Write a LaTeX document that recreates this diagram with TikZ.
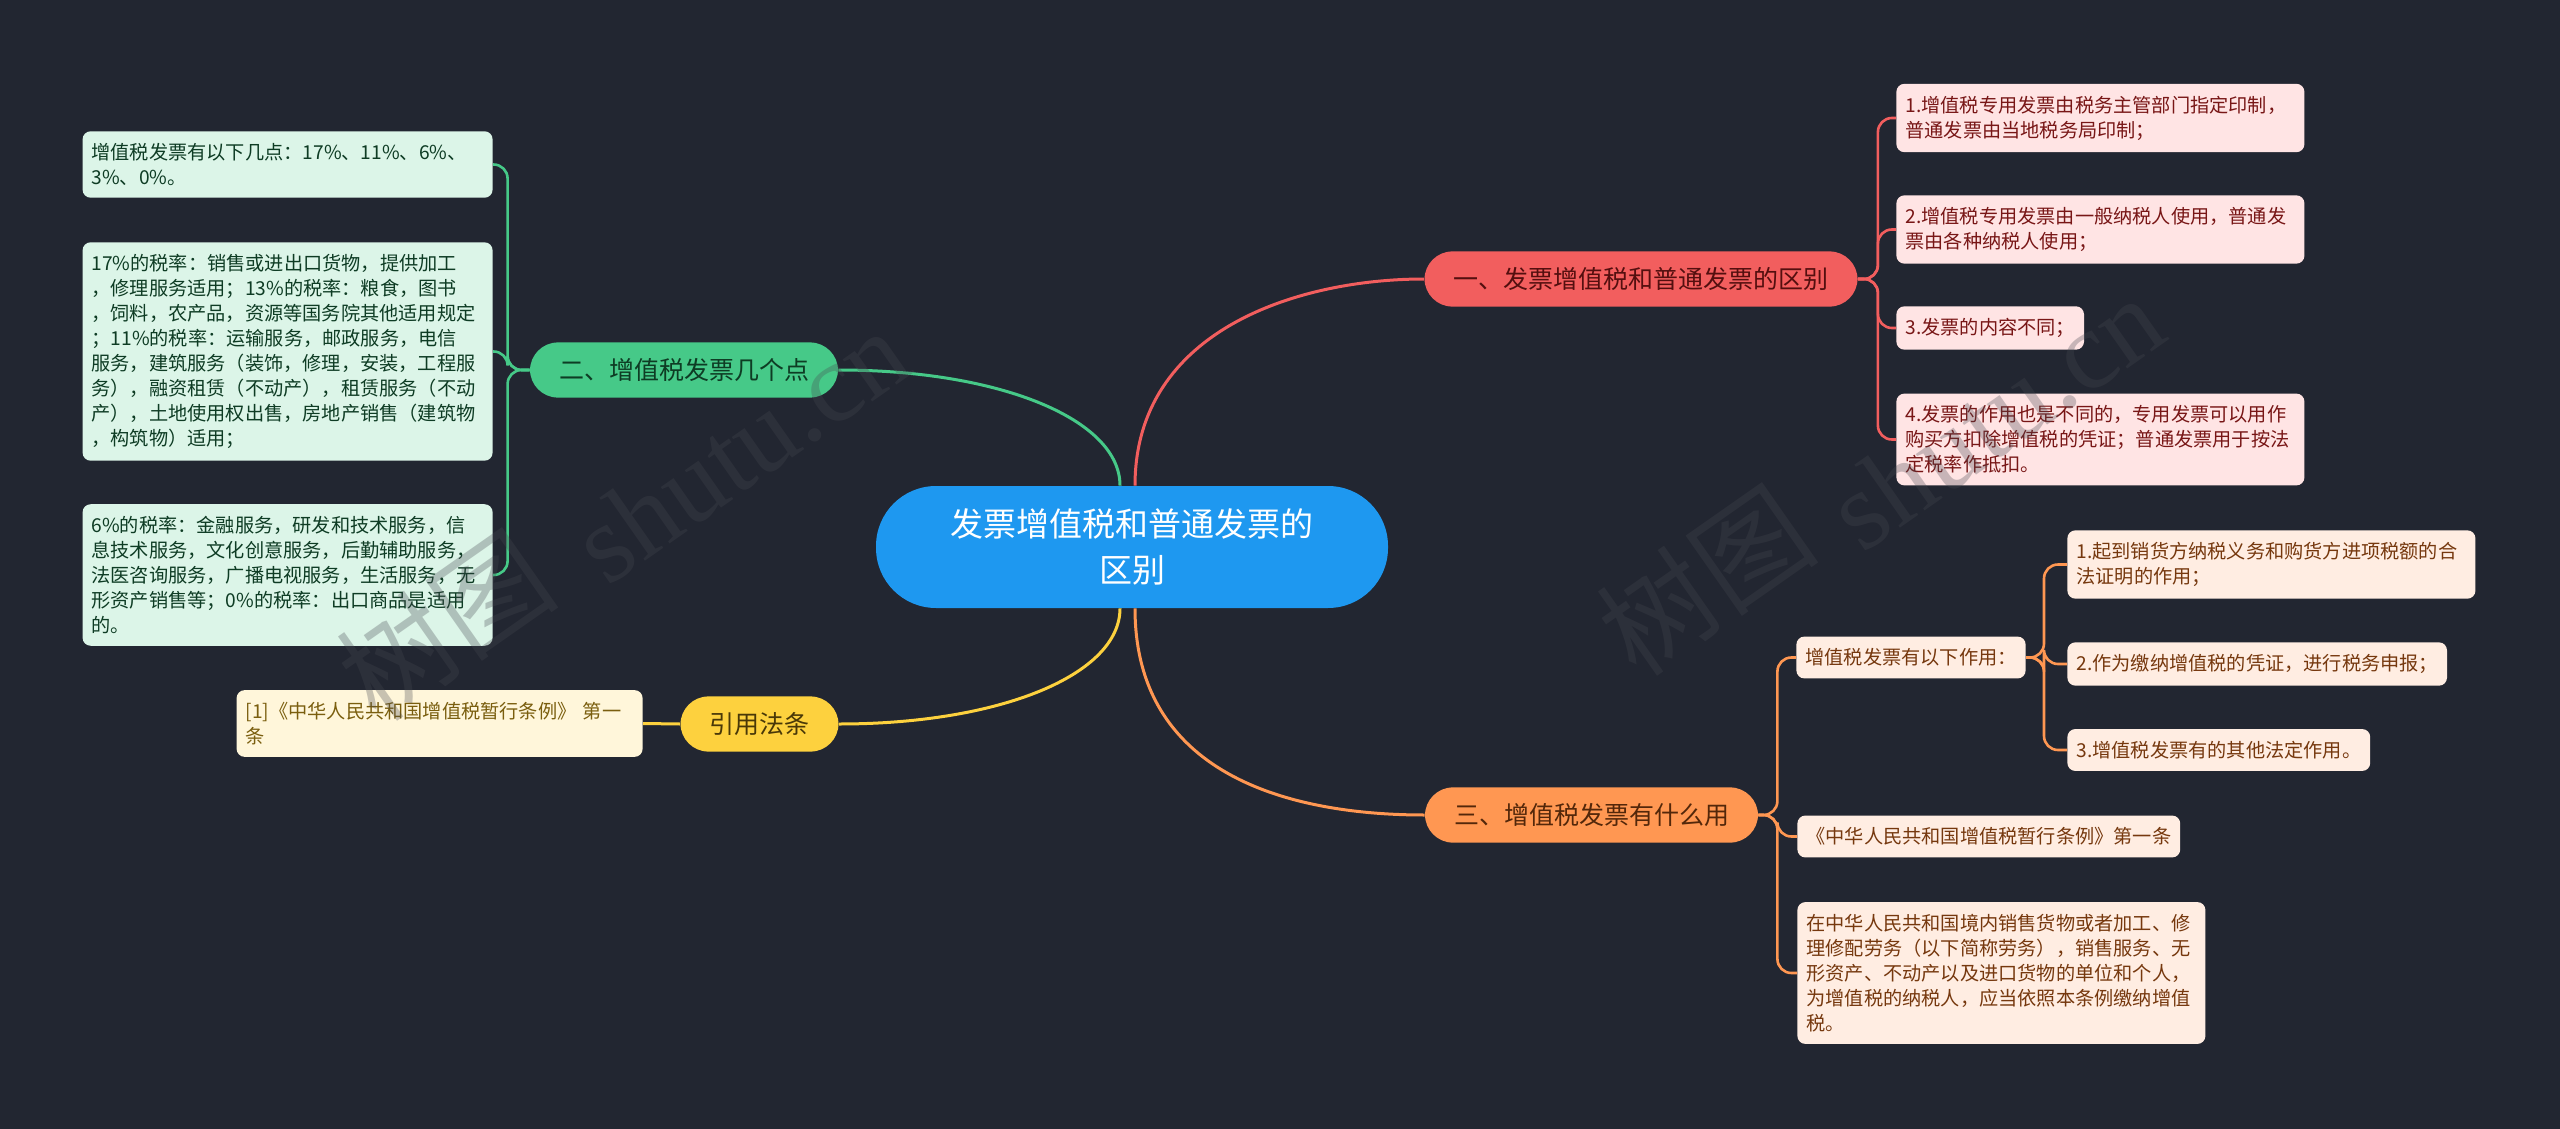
\documentclass[tikz,border=0pt]{standalone}
\usepackage{fontspec}
\setmainfont{Noto Sans CJK SC}
\newfontfamily\wmfont{Liberation Serif}
\usetikzlibrary{positioning}
\definecolor{bgdark}{RGB}{34,38,49}
\definecolor{rootblue}{RGB}{30,152,240}
\definecolor{redfill}{RGB}{242,94,94}
\definecolor{redleaf}{RGB}{255,228,228}
\definecolor{redtext}{RGB}{120,22,22}
\definecolor{greenfill}{RGB}{70,201,136}
\definecolor{greenleaf}{RGB}{220,245,232}
\definecolor{greentext}{RGB}{14,60,36}
\definecolor{yellowfill}{RGB}{253,209,62}
\definecolor{yellowleaf}{RGB}{255,246,218}
\definecolor{yellowtext}{RGB}{122,94,14}
\definecolor{orangefill}{RGB}{255,151,82}
\definecolor{orangeleaf}{RGB}{255,237,226}
\definecolor{orangetext}{RGB}{118,56,14}
\definecolor{wmgray}{RGB}{70,72,80}

\tikzset{
  rootnode/.style={rectangle, rounded corners=30pt, fill=rootblue, text=white,
    minimum width=256pt, minimum height=61pt, align=center,
    font=\fontsize{16.5pt}{23pt}\selectfont},
  branch/.style={rectangle, rounded corners=14pt, inner xsep=14.5pt, inner ysep=8pt,
    font=\fontsize{12.5pt}{15pt}\selectfont},
  leaf/.style={rectangle, rounded corners=4pt, inner xsep=4.5pt, inner ysep=6pt,
    align=left, font=\fontsize{9.6pt}{12.5pt}\selectfont},
  redleafnode/.style={leaf, fill=redleaf, text=redtext, anchor=west},
  greenleafnode/.style={leaf, fill=greenleaf, text=greentext, anchor=east},
  orangeleafnode/.style={leaf, fill=orangeleaf, text=orangetext, anchor=west},
  mainlink/.style={line width=1.5pt},
  bracket/.style={line width=1.3pt, rounded corners=7pt},
  watermark/.style={rotate=35, inner sep=0pt, text=wmgray, opacity=0.3, font=\fontsize{56pt}{56pt}\selectfont}
}

\begin{document}
\begin{tikzpicture}[x=0.5pt, y=-0.5pt]
  % nền
  \fill[bgdark] (0,0) rectangle (2560,1129);
  \useasboundingbox (0,0) rectangle (2560,1129);

  % chủ đề trung tâm
  \node[rootnode] (root) at (1132,547) {发票增值税和普通发票的\\区别};

  % bốn nhánh
  \node[branch, fill=redfill, text=redtext!70!black] (rb) at (1641,279) {一、发票增值税和普通发票的区别};
  \node[branch, fill=greenfill, text=greentext] (gb) at (684,370) {二、增值税发票几个点};
  \node[branch, fill=yellowfill, text=yellowtext!60!black] (yb) at (759.5,724) {引用法条};
  \node[branch, fill=orangefill, text=orangetext!70!black] (ob) at (1591.5,815) {三、增值税发票有什么用};

  \draw[mainlink, redfill] ([xshift=1.5pt]root.north) .. controls +(0,-156) and +(-125,0) .. (rb.west);
  \draw[mainlink, greenfill] ([xshift=-6pt]root.north) .. controls +(0,-66) and +(162,0) .. (gb.east);
  \draw[mainlink, yellowfill] ([xshift=-6pt]root.south) .. controls +(0,66) and +(162,0) .. (yb.east);
  \draw[mainlink, orangefill] ([xshift=1.5pt]root.south) .. controls +(0,172) and +(-125,0) .. (ob.west);

  % nhánh đỏ
  \node[redleafnode, text width=195pt] (rl1) at (1896,118) {1.增值税专用发票由税务主管部门指定印制，\\普通发票由当地税务局印制；};
  \node[redleafnode, text width=195pt] (rl2) at (1896,229.5) {2.增值税专用发票由一般纳税人使用，普通发\\票由各种纳税人使用；};
  \node[redleafnode] (rl3) at (1896,328) {3.发票的内容不同；};
  \node[redleafnode, text width=195pt] (rl4) at (1896,439.5) {4.发票的作用也是不同的，专用发票可以用作\\购买方扣除增值税的凭证；普通发票用于按法\\定税率作抵扣。};
  \foreach \leafname in {rl1,rl2,rl3,rl4}
    \draw[bracket, redfill] (rb.east) -- ++(20,0) |- (\leafname.west);

  % nhánh xanh lá
  \node[greenleafnode, text width=196pt] (gl1) at (493,164.5) {增值税发票有以下几点：17\%、11\%、6\%、\\3\%、0\%。};
  \node[greenleafnode, text width=196pt] (gl2) at (493,351.5) {17\%的税率：销售或进出口货物，提供加工\\，修理服务适用；13\%的税率：粮食，图书\\，饲料，农产品，资源等国务院其他适用规定\\；11\%的税率：运输服务，邮政服务，电信\\服务，建筑服务（装饰，修理，安装，工程服\\务），融资租赁（不动产），租赁服务（不动\\产），土地使用权出售，房地产销售（建筑物\\，构筑物）适用；};
  \node[greenleafnode, text width=196pt] (gl3) at (493,575) {6\%的税率：金融服务，研发和技术服务，信\\息技术服务，文化创意服务，后勤辅助服务，\\法医咨询服务，广播电视服务，生活服务，无\\形资产销售等；0\%的税率：出口商品是适用\\的。};
  \foreach \leafname in {gl1,gl2,gl3}
    \draw[bracket, greenfill] (gb.west) -- ++(-22,0) |- (\leafname.east);

  % nhánh vàng
  \node[leaf, fill=yellowleaf, text=yellowtext, anchor=east, text width=194pt] (yl1) at (643,723.5) {[1]《中华人民共和国增值税暂行条例》 第一\\条};
  \draw[mainlink, yellowfill] (yb.west) -- (yl1.east);

  % nhánh cam
  \node[orangeleafnode] (ol1) at (1796,657.5) {增值税发票有以下作用：};
  \node[orangeleafnode] (ol2) at (1797,836.5) {《中华人民共和国增值税暂行条例》第一条};
  \node[orangeleafnode, text width=195pt] (ol3) at (1797,973) {在中华人民共和国境内销售货物或者加工、修\\理修配劳务（以下简称劳务），销售服务、无\\形资产、不动产以及进口货物的单位和个人，\\为增值税的纳税人，应当依照本条例缴纳增值\\税。};
  \foreach \leafname in {ol1,ol2,ol3}
    \draw[bracket, orangefill] (ob.east) -- ++(19,0) |- (\leafname.west);

  \node[orangeleafnode, text width=195pt] (oc1) at (2067,564.5) {1.起到销货方纳税义务和购货方进项税额的合\\法证明的作用；};
  \node[orangeleafnode] (oc2) at (2067,664) {2.作为缴纳增值税的凭证，进行税务申报；};
  \node[orangeleafnode] (oc3) at (2067,750) {3.增值税发票有的其他法定作用。};
  \foreach \leafname in {oc1,oc2,oc3}
    \draw[bracket, orangefill] (ol1.east) -- ++(18,0) |- (\leafname.west);

  % watermark
  \node[watermark] (wm1a) at (445,625) {树图};
  \node[watermark, font=\fontsize{56pt}{56pt}\wmfont] (wm1b) at (740,448) {shutu.cn};
  \node[watermark] (wm2a) at (1705,580) {树图};
  \node[watermark, font=\fontsize{56pt}{56pt}\wmfont] (wm2b) at (1995,415) {shutu.cn};
\end{tikzpicture}
\end{document}
